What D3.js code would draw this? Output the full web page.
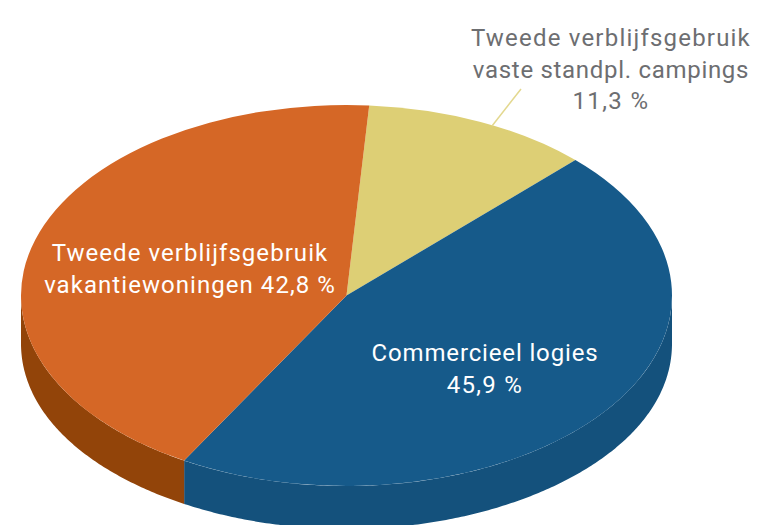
<!DOCTYPE html>
<html>
<head>
<meta charset="utf-8">
<script src="https://cdn.jsdelivr.net/npm/d3@7"></script>
<style>
  html, body { margin: 0; padding: 0; background: #fff; }
  svg { display: block; }
  text { font-family: Roboto, sans-serif; font-size: 24px; text-anchor: middle; }
</style>
</head>
<body>
<div id="chart"></div>
<script>
const categories = ['Tweede verblijfsgebruik vaste standpl. campings', 'Commercieel logies', 'Tweede verblijfsgebruik vakantiewoningen'];
const values = [11.3, 45.9, 42.8];
const valueLabels = ['11,3 %', '45,9 %', '42,8 %'];

class Pie3d {

  constructor(_config) {
    this.config = {
      parentElement: _config.parentElement,
      containerWidth: 764,
      containerHeight: 525,
      cx: 346.5,
      cy: 295.5,
      rx: 325.5,
      ry: 190.5,
      depth: 43,
      sideBulge: 5,
      firstAngle: 4 * Math.PI / 180,
      topColors: ['#ddcf75', '#165a8a', '#d56726'],
      sideColors: ['#ddcf75', '#14517c', '#924409'],
      lineHeight: 32
    }
    this.initVis();
  }

  initVis() {
    let vis = this;
    let c = vis.config;

    vis.svg = d3.select(c.parentElement).append('svg')
        .attr('width', c.containerWidth)
        .attr('height', c.containerHeight);

    vis.pie = d3.pie()
        .sort(null)
        .startAngle(c.firstAngle)
        .endAngle(c.firstAngle + 2 * Math.PI);

    // Top face is a circular arc squashed into an ellipse
    vis.arc = d3.arc().innerRadius(0).outerRadius(c.rx);

    vis.renderVis();
  }

  renderVis() {
    let vis = this;
    let c = vis.config;
    let slices = vis.pie(values);

    // Side walls, only the front half of the rim is visible.
    // The lower edge in the picture sags a little towards the far left and right.
    let px = a => c.cx + c.rx * Math.sin(a);
    let py = a => c.cy - c.ry * Math.cos(a);
    let drop = a => c.depth + c.sideBulge * Math.pow(Math.sin(a), 4);
    let wall = d => {
      let from = Math.max(d.startAngle, Math.PI / 2);
      let to = Math.min(d.endAngle, 3 * Math.PI / 2);
      if (to <= from) return null;
      let angles = d3.range(from, to, 0.01).concat(to);
      let rim = angles.map(a => [px(a), py(a)]);
      let lower = angles.slice().reverse().map(a => [px(a), py(a) + drop(a)]);
      return d3.line()(rim.concat(lower)) + 'Z';
    };

    vis.svg.selectAll('.wall')
        .data(slices)
      .join('path')
        .attr('class', 'wall')
        .attr('d', wall)
        .attr('fill', (d, i) => c.sideColors[i]);

    vis.svg.append('g')
        .attr('transform', `translate(${c.cx},${c.cy}) scale(1,${c.ry / c.rx})`)
      .selectAll('.slice')
        .data(slices)
      .join('path')
        .attr('class', 'slice')
        .attr('d', vis.arc)
        .attr('fill', (d, i) => c.topColors[i]);

    // Leader line for the small slice
    vis.svg.append('line')
        .attr('x1', 521).attr('y1', 89)
        .attr('x2', 492).attr('y2', 126)
        .attr('stroke', '#e3d88f')
        .attr('stroke-width', 1.5);

    vis.renderLabels();
  }

  renderLabels() {
    let vis = this;
    let c = vis.config;

    let [campings, logies, woningen] = categories;
    let blocks = [
      {x: 611, y: 46, fill: '#6d6e71', spacing: [1.2, 0.7, 1.4], lines: [campings.slice(0, 23), campings.slice(24), valueLabels[0]]},
      {x: 485, y: 361, fill: '#fff', spacing: [0.85, 1.3], lines: [logies, valueLabels[1]]},
      {x: 190, y: 261, fill: '#fff', spacing: [1.05, 1.05], lines: [woningen.slice(0, 23), woningen.slice(24) + ' ' + valueLabels[2]]}
    ];

    blocks.forEach(b => {
      vis.svg.append('text')
          .attr('fill', b.fill)
        .selectAll('tspan')
          .data(b.lines)
        .join('tspan')
          .attr('x', b.x)
          .attr('y', (d, i) => b.y + i * c.lineHeight - (b.lines.length === 3 && i === 2 ? 1 : 0))
          .attr('letter-spacing', (d, i) => b.spacing[i])
          .text(d => d);
    });
  }
}

new Pie3d({parentElement: '#chart'});
</script>
</body>
</html>
